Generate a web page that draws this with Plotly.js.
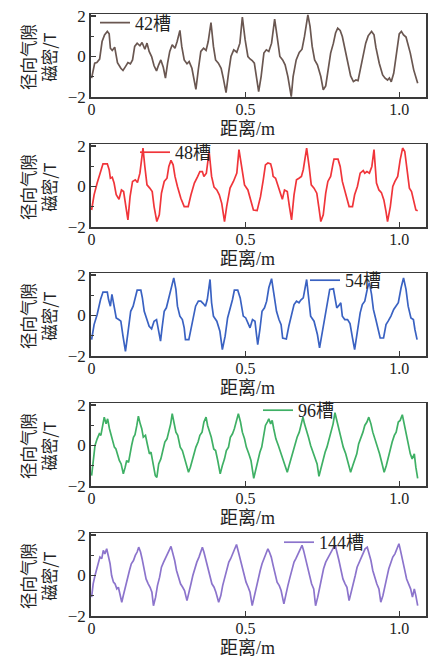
<!DOCTYPE html>
<html>
<head>
<meta charset="utf-8">
<script src="https://cdn.plot.ly/plotly-3.0.1.min.js"></script>
<style>html,body{margin:0;padding:0;background:#fff;}#chart{width:428px;height:660px;}</style>
</head>
<body>
<div id="chart"></div>
<script>
// ---- data ----
const seriesNames = ['42槽', '48槽', '54槽', '96槽', '144槽'];
const xTickVals = [0, 0.5, 1.0];
const xTickText = ['0', '0.5', '1.0'];
const yTickVals = [-2, 0, 2];
const yTickText = ['\u22122', '0', '2'];
const xTitle = '距离/m';
const yTitle = '径向气隙<br>磁密/T';

const x1 = [0.000,0.010,0.017,0.026,0.034,0.042,0.051,0.057,0.061,0.067,
0.075,0.084,0.095,0.102,0.110,0.118,0.126,0.133,0.140,0.148,
0.157,0.164,0.173,0.180,0.187,0.195,0.203,0.211,0.218,0.225,
0.233,0.240,0.247,0.254,0.262,0.271,0.278,0.287,0.293,0.301,
0.310,0.317,0.326,0.334,0.339,0.347,0.355,0.364,0.372,0.379,
0.388,0.396,0.403,0.412,0.421,0.428,0.437,0.445,0.453,0.462,
0.472,0.482,0.490,0.499,0.508,0.515,0.522,0.529,0.536,0.543,
0.551,0.560,0.568,0.576,0.585,0.595,0.603,0.612,0.621,0.629,
0.638,0.645,0.649,0.655,0.665,0.675,0.684,0.692,0.703,0.710,
0.717,0.725,0.734,0.745,0.753,0.761,0.768,0.777,0.786,0.793,
0.800,0.808,0.815,0.823,0.834,0.842,0.851,0.859,0.866,0.873,
0.884,0.891,0.899,0.910,0.918,0.924,0.935,0.946,0.954,0.962,
0.968,0.974,0.982,0.993,1.000,1.007,1.014,1.022,1.027,1.036,
1.047,1.054,1.060];
const y1 = [-1.07,-0.33,-0.30,-0.13,0.74,1.07,1.24,1.12,0.41,0.30,
0.46,-0.30,-0.58,-0.69,-0.50,-0.30,-0.36,-0.17,0.50,0.66,
0.53,0.69,0.36,0.66,0.25,0.00,-0.46,-0.71,-0.41,-0.17,
-0.53,-1.07,-0.33,0.25,0.58,0.41,0.74,1.29,0.50,-0.17,
-0.36,-0.25,-0.58,-1.16,-1.62,-0.63,0.25,0.41,0.30,0.74,
1.68,0.50,-0.17,-0.33,-0.58,-1.07,-1.78,-0.83,0.00,0.33,
0.21,0.66,1.95,0.83,0.00,-0.12,-0.20,-0.33,-0.99,-1.73,
-0.99,0.17,0.33,0.25,0.66,1.85,0.99,0.00,-0.17,-0.41,
-0.99,-1.73,-1.98,-0.99,-0.17,0.20,0.36,0.99,2.06,1.49,
0.50,-0.17,-0.41,-0.99,-1.65,-1.45,-0.66,0.17,0.66,1.16,
1.40,1.29,0.99,0.41,-0.33,-0.96,-1.24,-1.16,-1.19,-0.66,
0.17,0.66,1.02,1.24,1.07,0.46,-0.33,-0.91,-1.07,-1.16,
-1.06,-1.25,-0.83,0.33,1.12,1.24,1.07,0.96,0.66,0.17,
-0.66,-1.07,-1.32];

const x2 = [0.000,0.008,0.018,0.029,0.037,0.051,0.057,0.061,0.067,0.073,
0.080,0.089,0.097,0.104,0.111,0.118,0.125,0.133,0.142,0.149,
0.157,0.162,0.167,0.173,0.180,0.189,0.197,0.203,0.212,0.220,
0.227,0.236,0.245,0.251,0.258,0.265,0.271,0.279,0.290,0.301,
0.314,0.323,0.334,0.345,0.352,0.360,0.365,0.373,0.382,0.390,
0.398,0.407,0.415,0.423,0.432,0.439,0.450,0.461,0.472,0.479,
0.488,0.497,0.508,0.518,0.526,0.538,0.549,0.558,0.565,0.573,
0.582,0.587,0.590,0.598,0.603,0.612,0.620,0.627,0.636,0.643,
0.650,0.658,0.666,0.674,0.682,0.688,0.694,0.699,0.707,0.714,
0.723,0.732,0.739,0.745,0.753,0.761,0.768,0.777,0.784,0.788,
0.801,0.808,0.815,0.823,0.832,0.837,0.848,0.855,0.864,0.873,
0.883,0.888,0.895,0.903,0.911,0.918,0.926,0.934,0.942,0.950,
0.957,0.962,0.971,0.979,0.986,0.995,1.003,1.011,1.018,1.025,
1.033,1.040,1.047,1.054,1.060];
const y2 = [-1.16,-0.41,0.17,0.74,1.12,1.12,0.83,0.41,0.46,0.17,
-0.41,-0.63,-0.17,-0.25,-0.91,-1.65,-0.50,0.25,0.33,0.20,
0.66,1.32,1.90,0.99,0.08,-0.08,-0.25,-0.99,-1.73,-1.40,
-0.33,0.25,0.41,0.99,1.29,1.07,0.50,0.00,-0.58,-0.99,
-0.99,-0.41,0.17,0.50,0.74,0.74,0.50,0.66,1.73,0.50,
-0.03,-0.17,-0.41,-0.83,-1.73,-0.99,-0.08,0.25,0.66,1.82,
0.83,0.08,-0.17,-0.66,-1.16,-1.19,-0.50,0.33,1.07,1.16,
1.12,0.83,0.50,0.41,0.17,-0.33,-0.63,-0.17,-0.25,-0.99,
-1.65,-0.41,0.33,0.41,0.50,0.83,1.49,1.90,0.99,0.08,
-0.08,-0.33,-1.07,-1.73,-1.40,-0.33,0.25,0.50,1.07,1.35,
1.35,0.99,0.25,-0.17,-0.66,-0.99,-0.99,-0.41,0.00,0.66,
0.79,0.66,0.74,0.66,0.99,1.82,0.17,-0.17,-0.30,-0.66,
-1.24,-1.73,-0.99,0.00,0.25,0.50,1.32,1.90,1.73,0.83,
-0.08,-0.25,-0.66,-1.16,-1.20];

const x3 = [0.000,0.008,0.018,0.029,0.037,0.051,0.055,0.061,0.066,0.073,
0.080,0.088,0.095,0.102,0.110,0.118,0.127,0.135,0.142,0.148,
0.160,0.165,0.171,0.178,0.187,0.195,0.203,0.211,0.218,0.224,
0.229,0.236,0.243,0.251,0.260,0.267,0.274,0.279,0.287,0.295,
0.301,0.305,0.316,0.323,0.330,0.338,0.347,0.355,0.363,0.370,
0.376,0.385,0.390,0.396,0.407,0.417,0.425,0.434,0.442,0.450,
0.458,0.464,0.475,0.483,0.488,0.493,0.501,0.508,0.515,0.523,
0.531,0.536,0.540,0.547,0.554,0.562,0.569,0.576,0.585,0.592,
0.601,0.609,0.616,0.621,0.633,0.641,0.649,0.658,0.666,0.674,
0.680,0.688,0.699,0.707,0.712,0.723,0.734,0.741,0.750,0.758,
0.766,0.774,0.786,0.790,0.797,0.804,0.810,0.815,0.823,0.832,
0.840,0.848,0.855,0.864,0.873,0.880,0.888,0.897,0.903,0.910,
0.916,0.924,0.932,0.938,0.949,0.957,0.964,0.973,0.982,0.990,
0.997,1.006,1.014,1.022,1.029,1.038,1.046,1.051,1.058];
const y3 = [-1.19,-0.45,0.05,0.79,1.16,1.16,0.79,0.46,1.04,0.38,
-0.12,-0.20,-0.28,-1.02,-1.77,-0.86,0.21,0.46,0.96,1.25,
1.25,0.87,0.21,-0.12,-0.53,-0.66,-0.28,-0.20,-0.86,-1.27,
-0.61,0.21,0.38,0.87,1.45,1.86,1.29,0.46,-0.03,-0.20,
-0.61,-1.19,-1.19,-0.61,-0.03,0.46,0.71,0.71,0.59,0.46,
0.79,1.78,0.63,-0.03,-0.28,-0.78,-1.68,-1.02,-0.12,0.30,
0.79,1.25,1.25,0.87,0.38,-0.03,-0.12,-0.36,-0.61,-0.20,
-0.28,-0.94,-1.44,-0.69,0.21,0.38,0.71,1.37,1.82,1.12,
0.21,-0.20,-0.45,-1.11,-1.16,-0.53,0.05,0.54,0.71,0.63,
0.76,0.87,1.78,0.63,-0.03,-0.28,-0.94,-1.60,-0.86,-0.03,
0.54,1.29,1.32,0.96,0.38,0.50,0.63,-0.03,-0.20,-0.20,
-0.40,-1.11,-1.68,-0.78,0.13,0.54,0.71,1.37,1.62,1.04,
0.30,-0.20,-0.78,-1.11,-1.11,-0.45,-0.28,-0.03,0.30,0.46,
0.63,1.37,1.86,1.29,0.46,-0.12,-0.20,-0.69,-1.19];

const x4 = [0.000,0.005,0.011,0.018,0.025,0.030,0.036,0.041,0.047,0.052,
0.058,0.063,0.068,0.074,0.079,0.085,0.090,0.096,0.103,0.109,
0.114,0.120,0.125,0.130,0.136,0.141,0.147,0.152,0.158,0.163,
0.168,0.175,0.182,0.188,0.193,0.199,0.207,0.212,0.218,0.225,
0.232,0.238,0.245,0.251,0.257,0.262,0.267,0.274,0.280,0.288,
0.295,0.301,0.308,0.315,0.321,0.326,0.333,0.339,0.346,0.352,
0.359,0.365,0.372,0.377,0.383,0.389,0.397,0.403,0.410,0.418,
0.425,0.432,0.438,0.445,0.451,0.458,0.464,0.471,0.477,0.484,
0.490,0.497,0.503,0.511,0.518,0.527,0.534,0.540,0.547,0.553,
0.560,0.565,0.571,0.576,0.582,0.587,0.592,0.599,0.607,0.614,
0.621,0.627,0.636,0.642,0.649,0.655,0.662,0.668,0.675,0.682,
0.687,0.692,0.699,0.705,0.712,0.720,0.726,0.733,0.739,0.746,
0.752,0.759,0.765,0.772,0.778,0.785,0.791,0.798,0.804,0.811,
0.818,0.826,0.834,0.842,0.849,0.855,0.862,0.868,0.875,0.882,
0.888,0.895,0.901,0.908,0.914,0.921,0.928,0.936,0.943,0.951,
0.958,0.964,0.971,0.977,0.984,0.990,0.997,1.003,1.010,1.016,
1.023,1.029,1.036,1.042,1.049,1.054,1.060];
const y4 = [-1.49,-0.66,0.00,0.33,0.58,0.50,1.07,1.40,1.07,1.32,
0.83,0.50,0.17,-0.08,-0.17,-0.50,-0.74,-0.91,-1.40,-1.07,
-0.74,-0.83,-0.33,0.00,0.41,0.53,0.99,1.45,1.07,0.83,
0.41,0.50,0.00,-0.41,-0.33,-0.83,-1.49,-1.57,-0.91,-0.66,
-0.25,0.17,0.33,0.66,1.07,1.57,1.16,0.66,0.50,-0.08,
-0.25,-0.58,-0.83,-1.32,-1.07,-0.74,-0.41,-0.08,0.17,0.50,
0.66,1.16,1.40,0.99,0.74,0.41,-0.17,-0.25,-0.74,-1.40,
-0.99,-0.66,-0.25,-0.08,0.41,0.58,0.83,1.32,1.57,1.16,
0.66,0.33,-0.08,-0.41,-0.74,-1.62,-1.16,-0.74,-0.33,-0.08,
0.50,0.99,1.16,1.32,1.07,1.24,0.83,0.33,0.00,-0.33,
-0.58,-0.83,-1.32,-0.99,-0.58,-0.25,0.17,0.41,0.66,1.07,
1.40,1.07,0.74,0.41,0.00,-0.33,-0.58,-0.91,-1.52,-1.07,
-0.66,-0.33,-0.08,0.33,0.66,1.07,1.62,1.16,0.74,0.41,
-0.08,-0.41,-0.83,-1.32,-0.99,-0.66,-0.41,0.08,0.33,0.66,
0.99,1.16,1.40,1.07,0.66,0.33,-0.08,-0.41,-0.83,-1.32,
-0.99,-0.58,-0.25,0.17,0.50,0.66,1.16,1.24,1.52,1.07,
0.58,0.17,-0.41,-0.66,-0.41,-1.07,-1.62];

const x5 = [0.000,0.005,0.011,0.016,0.022,0.027,0.033,0.038,0.043,0.049,
0.054,0.060,0.065,0.071,0.076,0.082,0.087,0.092,0.098,0.103,
0.110,0.116,0.123,0.129,0.136,0.142,0.148,0.153,0.159,0.164,
0.171,0.177,0.184,0.190,0.196,0.201,0.208,0.214,0.221,0.227,
0.234,0.240,0.247,0.252,0.258,0.263,0.270,0.276,0.283,0.289,
0.296,0.302,0.310,0.316,0.323,0.329,0.336,0.342,0.349,0.354,
0.360,0.365,0.372,0.378,0.385,0.391,0.398,0.404,0.413,0.420,
0.426,0.433,0.439,0.446,0.452,0.459,0.465,0.471,0.476,0.483,
0.489,0.496,0.502,0.509,0.515,0.522,0.528,0.535,0.541,0.548,
0.554,0.561,0.567,0.573,0.578,0.584,0.590,0.597,0.603,0.610,
0.616,0.625,0.632,0.638,0.645,0.651,0.658,0.664,0.671,0.677,
0.684,0.689,0.696,0.702,0.709,0.715,0.722,0.728,0.735,0.741,
0.748,0.754,0.761,0.767,0.774,0.780,0.787,0.792,0.798,0.804,
0.811,0.817,0.824,0.830,0.837,0.843,0.850,0.857,0.863,0.870,
0.876,0.883,0.889,0.896,0.901,0.908,0.914,0.921,0.927,0.934,
0.940,0.947,0.953,0.960,0.966,0.973,0.979,0.986,0.992,0.999,
1.004,1.011,1.017,1.024,1.030,1.037,1.043,1.049,1.054,1.060];
const y5 = [-1.07,-0.41,0.00,0.25,0.66,0.91,0.83,1.24,1.07,1.32,
0.99,0.58,0.00,-0.33,-0.41,-0.66,-0.58,-0.99,-1.32,-0.99,
-0.50,-0.08,0.25,0.58,0.74,0.99,1.16,1.40,1.16,0.83,
0.25,-0.17,-0.41,-0.58,-0.83,-1.49,-1.07,-0.50,-0.08,0.41,
0.66,0.83,1.07,1.24,1.44,1.16,0.74,0.25,-0.17,-0.41,
-0.58,-0.74,-1.24,-0.91,-0.41,0.00,0.41,0.66,0.91,1.16,
1.40,1.16,0.74,0.25,-0.17,-0.41,-0.58,-0.83,-1.32,-0.99,
-0.50,-0.08,0.33,0.66,0.83,1.07,1.32,1.53,1.24,0.83,
0.33,-0.08,-0.33,-0.58,-0.83,-1.49,-1.07,-0.58,-0.17,0.25,
0.58,0.83,1.07,1.32,1.16,0.91,0.50,0.00,-0.33,-0.50,
-0.74,-1.40,-0.99,-0.50,-0.08,0.33,0.66,0.83,1.07,1.27,
1.49,1.24,0.83,0.33,-0.08,-0.41,-0.66,-1.49,-1.07,-0.58,
-0.08,0.33,0.66,0.83,1.07,1.24,1.40,1.49,1.16,0.74,
0.25,-0.17,-0.41,-0.58,-1.24,-0.91,-0.41,0.00,0.41,0.66,
0.91,1.07,1.32,1.40,1.16,0.74,0.25,-0.17,-0.41,-0.66,
-1.32,-0.99,-0.50,-0.08,0.33,0.66,0.91,1.07,1.32,1.57,
1.24,0.83,0.33,-0.17,-0.41,-0.66,-1.07,-0.66,-0.99,-1.49];

// ---- styling / layout ----
const W = 428, H = 660;
const xs = [x1, x2, x3, x4, x5];
const ys = [y1, y2, y3, y4, y5];
const colors = ['#6a5751', '#f0353a', '#3a62c2', '#3fb065', '#8c74cc'];
const panelPx = [[14, 97], [144, 227], [273, 356], [403, 486], [533, 616]];
const legendPx = [[95, 23], [135, 152.5], [305, 280.5], [258, 410.5], [279, 542.5]];
const serif = '"Liberation Serif", "Noto Sans CJK SC", serif';
const cjk = '"Noto Sans CJK SC", sans-serif';
const textColor = '#222';
const frameColor = '#3a3a3a';
const plotLeft = 90.7, plotRight = 426;

const data = [];
const layout = {
  width: W, height: H,
  margin: {l: 0, r: 0, t: 0, b: 0},
  paper_bgcolor: '#fff', plot_bgcolor: '#fff',
  showlegend: true,
  annotations: []
};

for (let i = 0; i < 5; i++) {
  const n = i === 0 ? '' : String(i + 1);
  const legendId = 'legend' + n;
  data.push({
    type: 'scatter', mode: 'lines',
    x: xs[i], y: ys[i], name: seriesNames[i],
    xaxis: 'x' + n, yaxis: 'y' + n,
    legend: legendId,
    line: {color: colors[i], width: 1.7}
  });
  const [top, bot] = panelPx[i];
  layout['xaxis' + n] = {
    domain: [plotLeft / W, plotRight / W],
    anchor: 'y' + n,
    range: [-0.003, 1.087],
    tickvals: xTickVals, ticktext: xTickText,
    ticks: 'inside', ticklen: 5, tickwidth: 1.2, tickcolor: frameColor,
    ticklabelstandoff: -3,
    showline: true, mirror: true, linecolor: frameColor, linewidth: 1.5,
    showgrid: false, zeroline: false,
    tickfont: {family: serif, size: 16, color: textColor}
  };
  layout['yaxis' + n] = {
    domain: [1 - bot / H, 1 - top / H],
    anchor: 'x' + n,
    range: [-2, 2.1],
    tickvals: yTickVals, ticktext: yTickText,
    ticks: 'inside', ticklen: 5, tickwidth: 1.2, tickcolor: frameColor,
    minor: {tickvals: [-1, 1], ticks: 'inside', ticklen: 3, tickcolor: frameColor, showgrid: false},
    showline: true, mirror: true, linecolor: frameColor, linewidth: 1.5,
    showgrid: false, zeroline: false,
    tickfont: {family: serif, size: 17, color: textColor}
  };
  layout[legendId] = {
    x: legendPx[i][0] / W, y: 1 - legendPx[i][1] / H,
    xanchor: 'left', yanchor: 'middle',
    bgcolor: 'rgba(0,0,0,0)', borderwidth: 0,
    font: {family: serif, size: 18, color: textColor},
    itemwidth: 30
  };
  layout.annotations.push({
    xref: 'paper', yref: 'paper', x: 247 / W, y: 1 - (bot + 32) / H,
    xanchor: 'center', yanchor: 'middle', showarrow: false,
    text: xTitle, font: {family: serif, size: 18, color: textColor}
  });
  layout.annotations.push({
    xref: 'paper', yref: 'paper', x: 38 / W, y: 1 - ((top + bot) / 2 + 1.5) / H,
    xanchor: 'center', yanchor: 'middle', showarrow: false, textangle: -90,
    align: 'center',
    text: yTitle, font: {family: cjk, size: 16.5, color: textColor}
  });
}

Plotly.newPlot('chart', data, layout, {displayModeBar: false, staticPlot: true});
</script>
</body>
</html>
